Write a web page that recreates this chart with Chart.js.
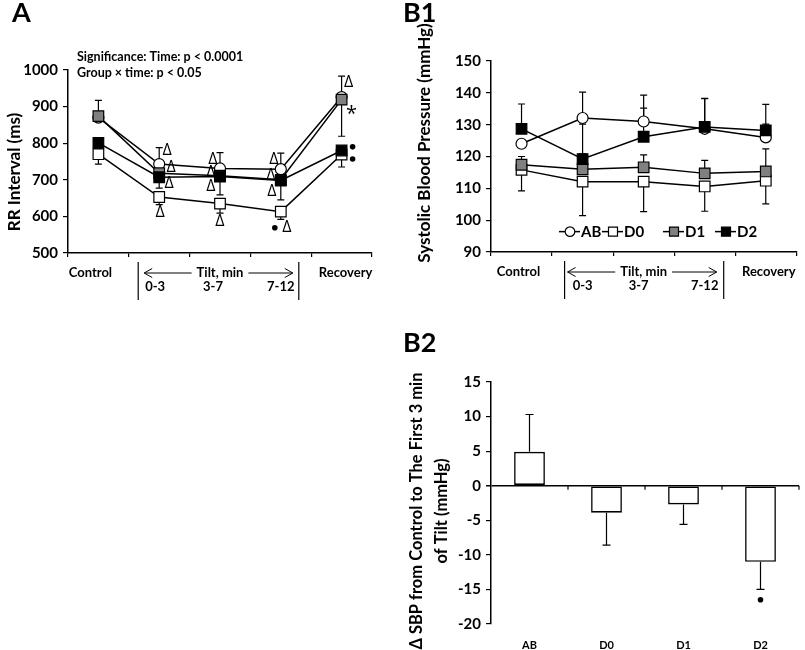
<!DOCTYPE html>
<html><head><meta charset="utf-8">
<script src="https://cdn.jsdelivr.net/npm/chart.js@4"></script>
<style>
html,body{margin:0;padding:0;background:#fff;width:805px;height:650px;overflow:hidden;}
canvas{position:absolute;}
</style></head><body>
<canvas id="cA" width="400" height="320" style="left:0;top:0"></canvas>
<canvas id="cB1" width="405" height="320" style="left:400px;top:0"></canvas>
<canvas id="cB2" width="405" height="330" style="left:400px;top:320px"></canvas>
<script>
// ---------- DATA ----------
const timeCats = ['Control', '0-3', '3-7', '7-12', 'Recovery'];
const tiltLabel = 'Tilt, min';
const groups = ['AB', 'D0', 'D1', 'D2'];

// Panel A: RR interval (ms), mean and signed error (+ up / - down)
const rrAB = [870, 743, 731, 729, 926];
const rrD0 = [770, 653, 635, 613, 769];
const rrD1 = [874, 718, 711, 700, 919];
const rrD2 = [801, 707, 709, 698, 780];
const rrErrAB = [0, 45, 43, 44, 57];
const rrErrD0 = [-27, -21, -26, -21, -34];
const rrErrD1 = [43, 0, 0, 0, -100];
const rrErrD2 = [0, -30, -50, -53, 0];
const rrTicks = [500, 600, 700, 800, 900, 1000];

// Panel B1: systolic blood pressure (mmHg)
const sbpAB = [124.0, 132.1, 131.0, 128.7, 126.0];
const sbpD0 = [115.8, 112.1, 112.1, 110.6, 112.4];
const sbpD1 = [117.4, 116.0, 116.6, 114.7, 115.3];
const sbpD2 = [128.7, 119.2, 126.2, 129.3, 128.2];
const sbpErrAB = [0, 8.1, 8.3, 9.5, 4.2];
const sbpErrD0 = [-6.6, -10.7, -9.4, -7.8, -7.3];
const sbpErrD1 = [2.6, 4.8, 3.9, 4.1, 7.1];
const sbpErrD2 = [7.8, 11.0, 9.0, 9.0, 8.2];
const sbpTicks = [90, 100, 110, 120, 130, 140, 150];

// Panel B2: change in SBP control -> first 3 min of tilt
const dSbp = [4.9, -3.9, -2.7, -11.0];
const dSbpErr = [5.4, -4.7, -2.9, -4.0];
const dSbpTicks = [-20, -15, -10, -5, 0, 5, 10, 15];

// ---------- HELPERS ----------
const FONT = "Lato, 'Open Sans', sans-serif";
const GFONT = "'Open Sans', 'DejaVu Sans', sans-serif";
Chart.defaults.font.family = FONT;
Chart.defaults.color = '#000';

function drawErrors(chart, sets, capHalf) {
  const ctx = chart.ctx, xs = chart.scales.x, ys = chart.scales.y;
  ctx.save(); ctx.strokeStyle = '#000'; ctx.lineWidth = 1.2;
  sets.forEach(([vals, errs]) => {
    vals.forEach((v, i) => {
      const e = errs[i]; if (!e) return;
      const px = xs.getPixelForValue(i), p0 = ys.getPixelForValue(v), p1 = ys.getPixelForValue(v + e);
      ctx.beginPath(); ctx.moveTo(px, p0); ctx.lineTo(px, p1);
      ctx.moveTo(px - capHalf, p1); ctx.lineTo(px + capHalf, p1); ctx.stroke();
    });
  });
  ctx.restore();
}
function arrow(ctx, xFrom, xTo, y) {
  const d = xTo > xFrom ? -1 : 1;
  ctx.beginPath(); ctx.moveTo(xFrom, y); ctx.lineTo(xTo, y);
  ctx.moveTo(xTo + d * 8, y - 4.5); ctx.lineTo(xTo, y); ctx.lineTo(xTo + d * 8, y + 4.5);
  ctx.stroke();
}
function drawTimeAxis(chart, o) {
  const ctx = chart.ctx, xs = chart.scales.x, b = chart.chartArea.bottom;
  ctx.save(); ctx.fillStyle = '#000'; ctx.strokeStyle = '#000'; ctx.lineWidth = 1;
  ctx.font = 'bold 13px ' + FONT; ctx.textAlign = 'center'; ctx.textBaseline = 'middle';
  const r1 = b + 20, r2 = b + 34;
  ctx.fillText(timeCats[0], xs.getPixelForValue(0) + o.c0, r1);
  ctx.fillText(timeCats[4], xs.getPixelForValue(4) + o.c4, r1);
  const mid = xs.getPixelForValue(2);
  ctx.fillText(tiltLabel, mid, r1);
  const tw = ctx.measureText(tiltLabel).width;
  arrow(ctx, mid - tw / 2 - 5, xs.getPixelForValue(1) - 15, r1);
  arrow(ctx, mid + tw / 2 + 5, xs.getPixelForValue(3) + 12, r1);
  ctx.fillText(timeCats[1], xs.getPixelForValue(1) + o.s1, r2);
  ctx.fillText(timeCats[2], xs.getPixelForValue(2) + o.s2, r2);
  ctx.fillText(timeCats[3], xs.getPixelForValue(3), r2);
  ctx.lineWidth = 1.2;
  [xs.getPixelForValue(1) + o.v1, xs.getPixelForValue(3) + o.v2].forEach(vx => {
    ctx.beginPath(); ctx.moveTo(vx, b + 9); ctx.lineTo(vx, b + 47); ctx.stroke();
  });
  ctx.restore();
}
function rotText(ctx, text, x, y, font) {
  ctx.save(); ctx.translate(x, y); ctx.rotate(-Math.PI / 2);
  ctx.font = font; ctx.fillStyle = '#000'; ctx.textAlign = 'center'; ctx.textBaseline = 'middle';
  ctx.fillText(text, 0, 0); ctx.restore();
}
function letter(ctx, t, x, y) {
  ctx.save(); ctx.font = 'bold 27px ' + FONT; ctx.fillStyle = '#000';
  ctx.textAlign = 'left'; ctx.textBaseline = 'alphabetic'; ctx.fillText(t, x, y); ctx.restore();
}
function lineDS(label, data, style, fill, r, order) {
  return {
    label, data, order, borderColor: '#000', borderWidth: 1.5, tension: 0,
    pointStyle: style, pointRadius: r, pointBackgroundColor: fill,
    pointBorderColor: '#000', pointBorderWidth: 1.2
  };
}
function yAxis(ticks, width) {
  return {
    min: ticks[0], max: ticks[ticks.length - 1],
    afterFit: s => { s.width = width; },
    afterBuildTicks: s => { s.ticks = ticks.map(v => ({ value: v })); },
    ticks: { font: { size: 15, weight: 'bold' }, padding: 5, color: '#000', callback: v => String(v) },
    grid: { drawOnChartArea: false, drawTicks: true, tickLength: 5, color: '#000', lineWidth: 1.2 },
    border: { display: true, color: '#000', width: 1.5 }
  };
}
function xTimeAxis(h) {
  return {
    offset: true,
    afterFit: s => { s.height = h; },
    ticks: { display: false },
    grid: { offset: true, drawOnChartArea: false, drawTicks: true, tickLength: 4, color: '#000', lineWidth: 1.2 },
    border: { display: true, color: '#000', width: 1.5 }
  };
}
const baseOpts = {
  responsive: false, animation: false,
  plugins: { legend: { display: false }, tooltip: { enabled: false } }
};

// ---------- PANEL A ----------
new Chart(document.getElementById('cA'), {
  type: 'line',
  data: {
    labels: timeCats,
    datasets: [
      lineDS(groups[0], rrAB, 'circle', '#fff', 5.5, 4),
      lineDS(groups[1], rrD0, 'rect', '#fff', 7.5, 3),
      lineDS(groups[2], rrD1, 'rect', '#808080', 7.5, 2),
      lineDS(groups[3], rrD2, 'rect', '#000', 7.5, 1)
    ]
  },
  options: {
    ...baseOpts,
    layout: { padding: { top: 70, right: 28, left: 0, bottom: 0 } },
    scales: { x: xTimeAxis(67), y: yAxis(rrTicks, 68) }
  },
  plugins: [{
    id: 'annA',
    beforeDatasetsDraw(chart) {
      drawErrors(chart, [[rrAB, rrErrAB], [rrD0, rrErrD0], [rrD1, rrErrD1], [rrD2, rrErrD2]], 3.5);
    },
    afterDraw(chart) {
      const ctx = chart.ctx, xs = chart.scales.x, ys = chart.scales.y;
      letter(ctx, 'A', 12, 22);
      rotText(ctx, 'RR Interval (ms)', 15, 172, 'bold 17px ' + FONT);
      ctx.save(); ctx.fillStyle = '#000'; ctx.font = 'bold 12.5px ' + FONT;
      ctx.textAlign = 'left'; ctx.textBaseline = 'middle';
      ctx.fillText('Significance: Time: p < 0.0001', 77, 57);
      ctx.fillText('Group \u00d7 time: p < 0.05', 77, 73);
      const marks = [
        [1, 781, 8, '\u0394'], [1, 735, 12, '\u0394'], [1, 691, 10, '\u0394'], [1, 610, 1, '\u0394'],
        [2, 757, -7, '\u0394'], [2, 719, -9, '\u0394'], [2, 683, -9, '\u0394'], [2, 585, 0, '\u0394'],
        [3, 757, -7, '\u0394'], [3, 711, -10, '\u0394'], [3, 667, -9, '\u0394'], [3, 569, 6, '\u0394'],
        [4, 967, 7, '\u0394']
      ];
      ctx.textAlign = 'center'; ctx.font = '16px ' + GFONT;
      marks.forEach(([i, v, dx, t]) => ctx.fillText(t, xs.getPixelForValue(i) + dx, ys.getPixelForValue(v)));
      ctx.font = '20px ' + GFONT;
      ctx.fillText('*', xs.getPixelForValue(4) + 10, ys.getPixelForValue(880));
      [[3, 569, -6], [4, 790, 11], [4, 757, 11]].forEach(([i, v, dx]) => {
        ctx.beginPath(); ctx.arc(xs.getPixelForValue(i) + dx, ys.getPixelForValue(v), 2.8, 0, Math.PI * 2); ctx.fill();
      });
      ctx.restore();
      drawTimeAxis(chart, { c0: -8, c4: 4, s1: -4, s2: -7, v1: -21, v2: 18 });
    }
  }]
});

// ---------- PANEL B1 ----------
new Chart(document.getElementById('cB1'), {
  type: 'line',
  data: {
    labels: timeCats,
    datasets: [
      lineDS(groups[0], sbpAB, 'circle', '#fff', 5.5, 4),
      lineDS(groups[1], sbpD0, 'rect', '#fff', 7.5, 3),
      lineDS(groups[2], sbpD1, 'rect', '#808080', 7.5, 2),
      lineDS(groups[3], sbpD2, 'rect', '#000', 7.5, 1)
    ]
  },
  options: {
    ...baseOpts,
    layout: { padding: { top: 61, right: 2, left: 0, bottom: 0 } },
    scales: { x: xTimeAxis(68), y: yAxis(sbpTicks, 91) }
  },
  plugins: [{
    id: 'annB1',
    beforeDatasetsDraw(chart) {
      drawErrors(chart, [[sbpAB, sbpErrAB], [sbpD0, sbpErrD0], [sbpD1, sbpErrD1], [sbpD2, sbpErrD2]], 3.5);
    },
    afterDraw(chart) {
      const ctx = chart.ctx;
      letter(ctx, 'B1', 3, 22);
      rotText(ctx, 'Systolic Blood Pressure (mmHg)', 25, 143, 'bold 17px ' + FONT);
      // legend inside plot
      const ly = chart.scales.y.getPixelForValue(96.4);
      const x0 = [159, 202, 263, 315];
      ctx.save(); ctx.strokeStyle = '#000'; ctx.fillStyle = '#000'; ctx.lineWidth = 1.5;
      ctx.font = 'bold 15px ' + FONT; ctx.textAlign = 'left'; ctx.textBaseline = 'middle';
      chart.data.datasets.forEach((ds, k) => {
        const lx = x0[k];
        ctx.beginPath(); ctx.moveTo(lx, ly); ctx.lineTo(lx + 21, ly); ctx.stroke();
        const cx = lx + 11;
        ctx.lineWidth = 1.2;
        ctx.fillStyle = ds.pointBackgroundColor;
        ctx.beginPath();
        if (ds.pointStyle === 'circle') ctx.arc(cx, ly, 4.8, 0, Math.PI * 2);
        else ctx.rect(cx - 4.5, ly - 4.5, 9, 9);
        ctx.fill(); ctx.stroke();
        ctx.lineWidth = 1.5;
        ctx.fillStyle = '#000';
        ctx.fillText(ds.label, lx + 22, ly + 1);
      });
      ctx.restore();
      drawTimeAxis(chart, { c0: -3, c4: 3, s1: 0, s2: -5, v1: -18, v2: 19 });
    }
  }]
});

// ---------- PANEL B2 ----------
new Chart(document.getElementById('cB2'), {
  type: 'bar',
  data: {
    labels: groups,
    datasets: [{
      data: dSbp, backgroundColor: '#fff', borderColor: '#000', borderWidth: 1.6,
      borderSkipped: false, categoryPercentage: 1, barPercentage: 0.4
    }]
  },
  options: {
    ...baseOpts,
    layout: { padding: { top: 62, right: 6, left: 0, bottom: 0 } },
    scales: {
      x: {
        afterFit: s => { s.height = 26; },
        ticks: { font: { size: 11, weight: 'bold' }, padding: 15, color: '#000' },
        grid: { display: false, drawTicks: false },
        border: { display: false }
      },
      y: {
        min: dSbpTicks[0], max: dSbpTicks[dSbpTicks.length - 1],
        afterFit: s => { s.width = 91; },
        afterBuildTicks: s => { s.ticks = dSbpTicks.map(v => ({ value: v })); },
        ticks: { font: { size: 15, weight: 'bold' }, padding: 5, color: '#000' },
        grid: {
          drawOnChartArea: true, drawTicks: true, tickLength: 5,
          color: c => (c.tick && c.tick.value === 0) ? '#000' : 'rgba(0,0,0,0)',
          lineWidth: c => (c.tick && c.tick.value === 0) ? 1.5 : 1.2,
          tickColor: '#000'
        },
        border: { display: true, color: '#000', width: 1.5 }
      }
    }
  },
  plugins: [{
    id: 'annB2',
    afterDatasetsDraw(chart) {
      drawErrors(chart, [[dSbp, dSbpErr]], 4);
    },
    afterDraw(chart) {
      const ctx = chart.ctx, xs = chart.scales.x, ys = chart.scales.y;
      letter(ctx, 'B2', 3, 32);
      ctx.save();
      rotText(ctx, '\u0394 SBP from Control to The First 3 min', 17, 191, 'bold 16.5px ' + FONT);
      rotText(ctx, 'of Tilt (mmHg)', 42, 191, 'bold 16.5px ' + FONT);
      // tick marks on zero line at category boundaries
      const y0 = ys.getPixelForValue(0);
      ctx.strokeStyle = '#000'; ctx.lineWidth = 1.2;
      for (let i = 0; i < groups.length; i++) {
        const bx = i < groups.length - 1 ? (xs.getPixelForValue(i) + xs.getPixelForValue(i + 1)) / 2 : chart.chartArea.right;
        ctx.beginPath(); ctx.moveTo(bx, y0); ctx.lineTo(bx, y0 + 4); ctx.stroke();
      }
      ctx.fillStyle = '#000';
      ctx.beginPath(); ctx.arc(xs.getPixelForValue(3), ys.getPixelForValue(-16.5), 2.8, 0, Math.PI * 2); ctx.fill();
      ctx.restore();
    }
  }]
});
</script>
</body></html>
